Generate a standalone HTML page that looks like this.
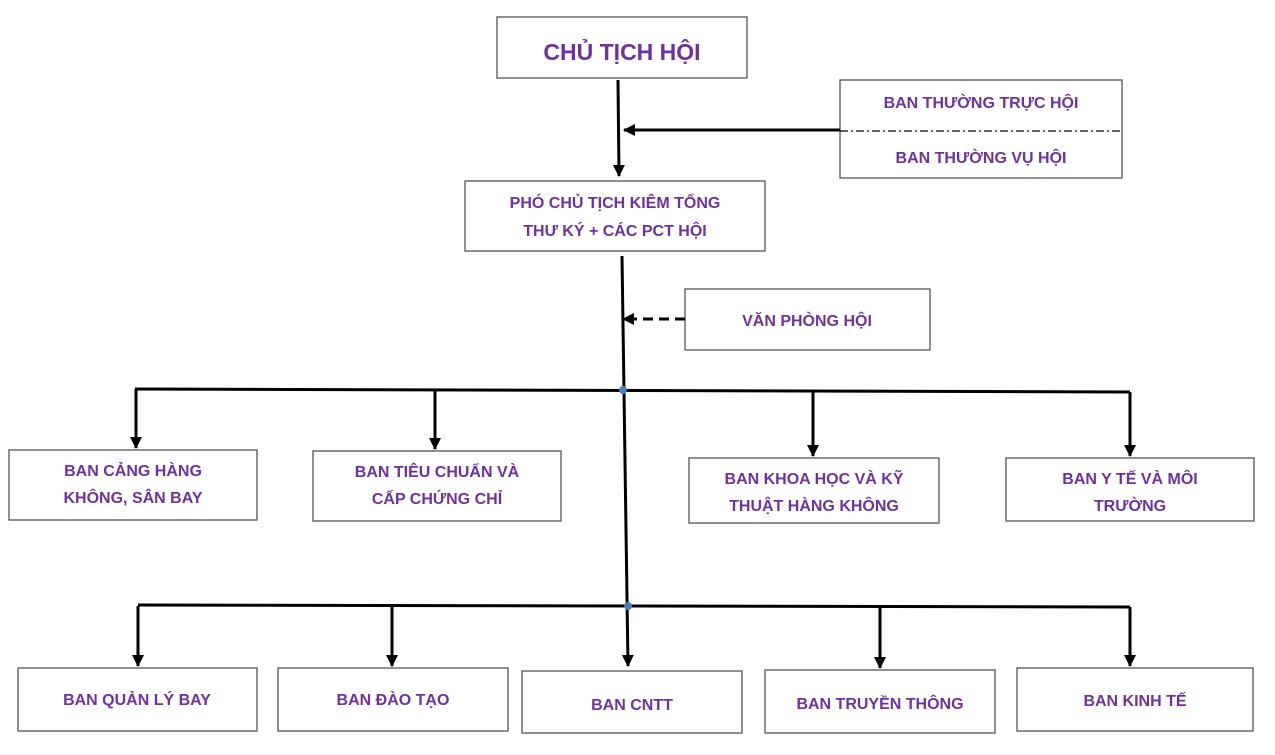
<!DOCTYPE html>
<html><head><meta charset="utf-8"><style>
html,body{margin:0;padding:0;background:#fff;}
svg text{font-family:"Liberation Sans","DejaVu Sans",sans-serif;font-weight:bold;fill:#7030a0;text-anchor:middle;}
</style></head><body>
<svg width="1275" height="750" viewBox="0 0 1275 750" xmlns="http://www.w3.org/2000/svg">
<defs><marker id="a" markerWidth="12" markerHeight="12" refX="11" refY="6" orient="auto" markerUnits="userSpaceOnUse"><path d="M0,0 L12,6 L0,12 Z" fill="#000"/></marker></defs>
<g fill="#fff" stroke="#555" stroke-width="1.3">
<rect x="497" y="17" width="250" height="61"/>
<rect x="840" y="80" width="282" height="98"/>
<rect x="465" y="181" width="300" height="70"/>
<rect x="685" y="289" width="245" height="61"/>
<rect x="9" y="450" width="248" height="70"/>
<rect x="313" y="451" width="248" height="70"/>
<rect x="689" y="458" width="250" height="65"/>
<rect x="1006" y="458" width="248" height="63"/>
<rect x="18" y="668" width="239" height="63"/>
<rect x="278" y="668" width="230" height="63"/>
<rect x="522" y="671" width="220" height="62"/>
<rect x="765" y="670" width="230" height="63"/>
<rect x="1017" y="668" width="236" height="63"/>
</g>
<g stroke="#000" stroke-width="3" fill="none">
<line x1="618" y1="80" x2="619" y2="176" marker-end="url(#a)"/>
<line x1="840" y1="130" x2="624" y2="130" marker-end="url(#a)"/>
<line x1="622" y1="256" x2="628" y2="666" marker-end="url(#a)"/>
<line x1="685" y1="319" x2="623" y2="319" stroke-dasharray="10,6" marker-end="url(#a)"/>
<line x1="135" y1="389" x2="1130" y2="392"/>
<line x1="136" y1="389" x2="136" y2="448" marker-end="url(#a)"/>
<line x1="435" y1="390" x2="435" y2="449" marker-end="url(#a)"/>
<line x1="813" y1="391" x2="813" y2="456" marker-end="url(#a)"/>
<line x1="1130" y1="392" x2="1130" y2="456" marker-end="url(#a)"/>
<line x1="138" y1="605" x2="1130" y2="607"/>
<line x1="138" y1="606" x2="138" y2="666" marker-end="url(#a)"/>
<line x1="392" y1="606" x2="392" y2="666" marker-end="url(#a)"/>
<line x1="880" y1="607" x2="880" y2="668" marker-end="url(#a)"/>
<line x1="1130" y1="607" x2="1130" y2="666" marker-end="url(#a)"/>
</g>
<line x1="840" y1="131" x2="1122" y2="131" stroke="#000" stroke-width="1.3" stroke-dasharray="8,3,2,3"/>
<circle cx="623" cy="390" r="4" fill="#4a7ebb"/>
<circle cx="628" cy="606" r="4" fill="#4a7ebb"/>
<text x="622" y="60" font-size="23">CHỦ TỊCH HỘI</text>
<text x="981" y="108" font-size="16">BAN THƯỜNG TRỰC HỘI</text>
<text x="981" y="163" font-size="16">BAN THƯỜNG VỤ HỘI</text>
<text x="615" y="208" font-size="16">PHÓ CHỦ TỊCH KIÊM TỔNG</text>
<text x="615" y="236" font-size="16">THƯ KÝ + CÁC PCT HỘI</text>
<text x="807" y="326" font-size="16">VĂN PHÒNG HỘI</text>
<text x="133" y="476" font-size="16">BAN CẢNG HÀNG</text>
<text x="133" y="503" font-size="16">KHÔNG, SÂN BAY</text>
<text x="437" y="477" font-size="16">BAN TIÊU CHUẨN VÀ</text>
<text x="437" y="504" font-size="16">CẤP CHỨNG CHỈ</text>
<text x="814" y="484" font-size="16">BAN KHOA HỌC VÀ KỸ</text>
<text x="814" y="511" font-size="16">THUẬT HÀNG KHÔNG</text>
<text x="1130" y="484" font-size="16">BAN Y TẾ VÀ MÔI</text>
<text x="1130" y="511" font-size="16">TRƯỜNG</text>
<text x="137" y="705" font-size="16">BAN QUẢN LÝ BAY</text>
<text x="393" y="705" font-size="16">BAN ĐÀO TẠO</text>
<text x="632" y="710" font-size="16">BAN CNTT</text>
<text x="880" y="709" font-size="16">BAN TRUYỀN THÔNG</text>
<text x="1135" y="706" font-size="16">BAN KINH TẾ</text>
</svg>
</body></html>
